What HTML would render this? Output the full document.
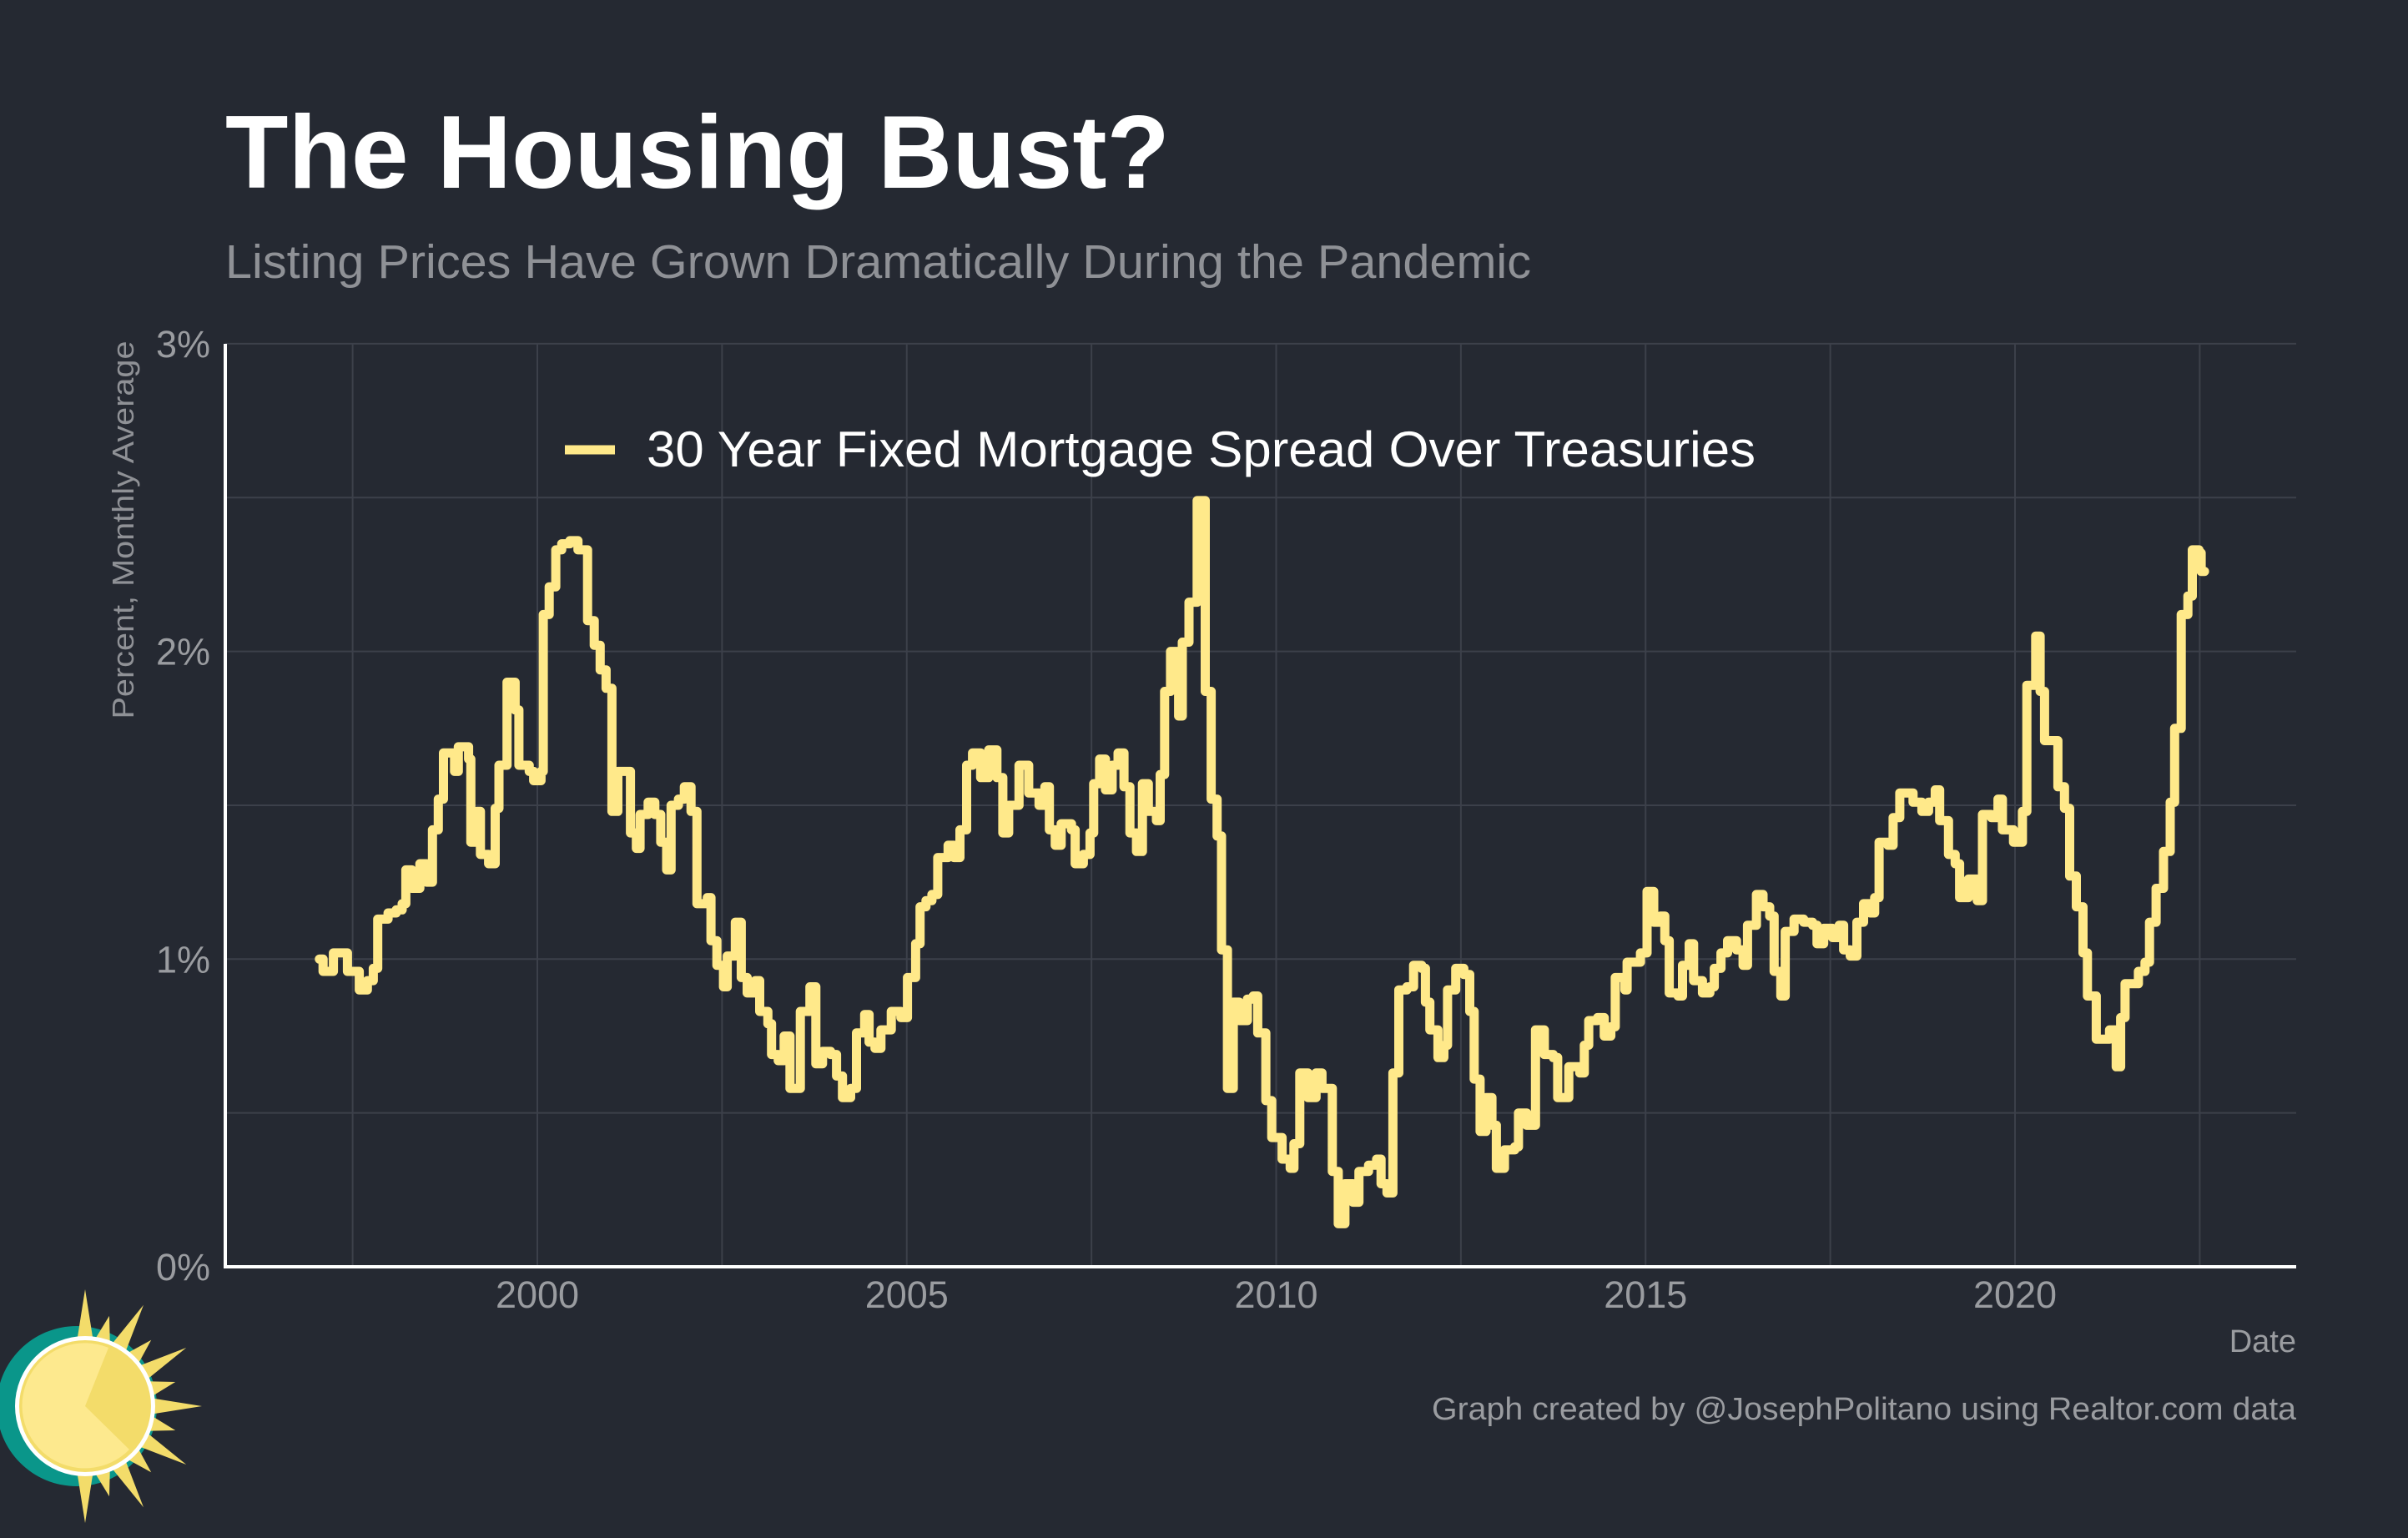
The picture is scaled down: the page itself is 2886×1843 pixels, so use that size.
<!DOCTYPE html>
<html><head><meta charset="utf-8"><style>
html,body{margin:0;padding:0;background:#252932;}
svg{display:block;font-family:"Liberation Sans",sans-serif;}
</style></head><body>
<svg id="chart" width="2886" height="1843" viewBox="0 0 2886 1843" xmlns="http://www.w3.org/2000/svg">
<rect width="2886" height="1843" fill="#252932"/>
<text x="270" y="225" font-size="124" font-weight="bold" fill="#ffffff" textLength="1132" lengthAdjust="spacingAndGlyphs">The Housing Bust?</text>
<text x="270" y="333" font-size="57" fill="#8f9196" textLength="1565" lengthAdjust="spacingAndGlyphs">Listing Prices Have Grown Dramatically During the Pandemic</text>
<g id="grid"></g>
<g id="yticks"></g>
<g id="xticks"></g>
<text transform="translate(160,635) rotate(-90)" text-anchor="middle" font-size="36" fill="#8f9196" textLength="453" lengthAdjust="spacingAndGlyphs">Percent, Monthly Average</text>
<text x="2752" y="1620" text-anchor="end" font-size="38" fill="#9a9ca0">Date</text>
<text x="1716" y="1701" font-size="38" fill="#9a9ca0" textLength="1036" lengthAdjust="spacingAndGlyphs">Graph created by @JosephPolitano using Realtor.com data</text>
<path id="series" fill="none" stroke="#ffe98a" stroke-width="11" stroke-linejoin="round" stroke-linecap="round"/>
<line x1="270" y1="412" x2="270" y2="1518" stroke="#ffffff" stroke-width="4"/>
<line x1="268" y1="1518" x2="2752" y2="1518" stroke="#ffffff" stroke-width="4"/>
<g>
<line x1="677" y1="539" x2="737" y2="539" stroke="#ffe98a" stroke-width="11"/>
<text x="775" y="559" font-size="60" fill="#ffffff" textLength="1329" lengthAdjust="spacingAndGlyphs">30 Year Fixed Mortgage Spread Over Treasuries</text>
</g>
<g>
<circle cx="92" cy="1685" r="96" fill="#0a968a"/>
<g id="rays" fill="#f3dc6a"></g>
<circle cx="102" cy="1685" r="84" fill="#ffffff"/>
<circle cx="102" cy="1685" r="79" fill="#f3dc6a"/>
<path d="M102,1685 L130,1615 A75,75 0 1,0 155,1737 Z" fill="#fde98e"/>
</g>
</svg>
<script>
const dates=[1997.05,1997.10,1997.24,1997.43,1997.59,1997.70,1997.78,1997.84,1997.98,1998.09,1998.17,1998.22,1998.30,1998.41,1998.50,1998.58,1998.66,1998.73,1998.88,1998.93,1999.07,1999.10,1999.18,1999.23,1999.34,1999.43,1999.48,1999.59,1999.70,1999.75,1999.89,1999.95,2000.05,2000.08,2000.16,2000.25,2000.33,2000.44,2000.55,2000.68,2000.77,2000.85,2000.93,2001.01,2001.09,2001.26,2001.34,2001.39,2001.50,2001.59,2001.67,2001.75,2001.81,2001.91,2001.99,2002.08,2002.16,2002.30,2002.35,2002.43,2002.52,2002.57,2002.68,2002.76,2002.84,2002.95,2003.01,2003.12,2003.17,2003.26,2003.34,2003.42,2003.56,2003.69,2003.77,2003.86,2003.97,2004.05,2004.13,2004.24,2004.32,2004.43,2004.49,2004.57,2004.65,2004.79,2004.92,
2005.01,2005.12,2005.18,2005.26,2005.34,2005.42,2005.56,2005.64,2005.72,2005.81,2005.89,2006.00,2006.11,2006.22,2006.30,2006.38,2006.52,2006.65,2006.79,2006.87,2006.93,2007.01,2007.09,2007.23,2007.28,2007.39,2007.48,2007.53,2007.61,2007.69,2007.78,2007.86,2007.94,2008.02,2008.11,2008.19,2008.27,2008.38,2008.43,2008.49,2008.57,2008.68,2008.73,2008.82,2008.93,2009.04,2009.12,2009.20,2009.26,2009.34,2009.42,2009.50,2009.61,2009.69,2009.75,2009.86,2009.94,2010.08,2010.19,2010.24,2010.32,2010.43,2010.54,2010.62,2010.76,2010.84,2010.93,2011.04,2011.12,2011.25,2011.36,2011.42,2011.50,2011.58,2011.66,2011.77,2011.86,2011.97,2012.02,2012.08,2012.19,2012.27,2012.32,2012.43,2012.54,2012.62,2012.68,2012.76,2012.84,2012.92,2012.98,2013.09,2013.23,2013.28,2013.39,
2013.51,2013.63,2013.75,2013.81,2013.96,2014.11,2014.17,2014.23,2014.35,2014.44,2014.53,2014.59,2014.72,2014.75,2014.84,2014.93,2015.02,2015.11,2015.20,2015.26,2015.32,2015.44,2015.50,2015.59,2015.65,2015.77,2015.87,2015.93,2016.02,2016.11,2016.23,2016.32,2016.38,2016.50,2016.59,2016.68,2016.74,2016.83,2016.89,2017.01,2017.14,2017.26,2017.32,2017.41,2017.53,2017.62,2017.68,2017.77,2017.86,2017.95,2018.04,2018.10,2018.16,2018.28,2018.35,2018.44,2018.62,2018.74,2018.83,2018.92,2018.98,2019.10,2019.19,2019.25,2019.37,2019.49,2019.56,2019.68,2019.77,2019.83,2019.98,2020.10,2020.16,2020.28,2020.34,2020.40,2020.58,2020.67,2020.74,2020.83,2020.92,2020.98,2021.10,2021.28,2021.37,2021.43,2021.49,2021.67,2021.76,2021.82,2021.91,2022.01,2022.10,2022.16,2022.25,2022.34,2022.40,2022.49,2022.52];
const spread=[1.00,0.96,1.02,0.96,0.90,0.93,0.97,1.13,1.15,1.16,1.18,1.29,1.23,1.31,1.25,1.42,1.52,1.67,1.61,1.69,1.65,1.38,1.48,1.34,1.31,1.49,1.63,1.90,1.81,1.63,1.61,1.58,1.61,2.12,2.21,2.33,2.35,2.36,2.33,2.10,2.02,1.94,1.88,1.48,1.61,1.41,1.36,1.47,1.51,1.47,1.38,1.29,1.50,1.52,1.56,1.48,1.18,1.20,1.06,0.98,0.91,1.01,1.12,0.94,0.89,0.93,0.83,0.79,0.69,0.67,0.75,0.58,0.83,0.91,0.66,0.70,0.69,0.62,0.55,0.58,0.76,0.82,0.73,0.71,0.77,0.83,0.81,
0.94,1.05,1.17,1.19,1.21,1.33,1.37,1.33,1.42,1.63,1.67,1.59,1.68,1.59,1.41,1.50,1.63,1.54,1.50,1.56,1.42,1.37,1.44,1.42,1.31,1.34,1.41,1.57,1.65,1.55,1.63,1.67,1.56,1.41,1.35,1.57,1.48,1.45,1.60,1.87,2.00,1.79,2.03,2.16,2.49,1.87,1.52,1.40,1.03,0.58,0.86,0.80,0.87,0.88,0.76,0.54,0.42,0.35,0.32,0.40,0.63,0.55,0.63,0.58,0.31,0.14,0.27,0.21,0.31,0.33,0.35,0.27,0.24,0.63,0.90,0.91,0.98,0.97,0.86,0.77,0.68,0.72,0.90,0.97,0.95,0.83,0.61,0.44,0.55,0.46,0.32,0.38,0.39,0.50,0.46,
0.77,0.69,0.68,0.55,0.65,0.63,0.72,0.80,0.81,0.75,0.78,0.94,0.90,0.99,0.99,1.02,1.22,1.12,1.14,1.06,0.89,0.88,0.98,1.05,0.93,0.89,0.91,0.97,1.02,1.06,1.03,0.98,1.11,1.21,1.17,1.14,0.96,0.88,1.09,1.13,1.12,1.11,1.05,1.10,1.07,1.11,1.03,1.01,1.12,1.18,1.15,1.20,1.38,1.37,1.46,1.54,1.51,1.48,1.51,1.55,1.45,1.34,1.31,1.20,1.26,1.19,1.47,1.46,1.52,1.42,1.38,1.48,1.89,2.05,1.87,1.71,1.56,1.49,1.27,1.17,1.02,0.88,0.74,0.77,0.65,0.81,0.92,0.96,0.99,1.12,1.23,1.35,1.51,1.75,2.12,2.18,2.33,2.32,2.26];
const yTicks=[0,1,2,3];
const yTickLabels=["0%","1%","2%","3%"];
const xTicks=[2000,2005,2010,2015,2020];
const xTickLabels=["2000","2005","2010","2015","2020"];
const NS="http://www.w3.org/2000/svg";
const X=yr=>644+(yr-2000)*88.55;
const Y=v=>1518-v*368.7;
const grid=document.getElementById('grid');
for(let v=0.5;v<=3.001;v+=0.5){const l=document.createElementNS(NS,'line');l.setAttribute('x1',270);l.setAttribute('x2',2752);l.setAttribute('y1',Y(v));l.setAttribute('y2',Y(v));l.setAttribute('stroke','#3c404a');l.setAttribute('stroke-width',2);


grid.appendChild(l);}
for(let yr=1997.5;yr<=2022.6;yr+=2.5){const l=document.createElementNS(NS,'line');l.setAttribute('x1',X(yr));l.setAttribute('x2',X(yr));l.setAttribute('y1',412);l.setAttribute('y2',1518);l.setAttribute('stroke','#3c404a');l.setAttribute('stroke-width',2);


grid.appendChild(l);}
const yt=document.getElementById('yticks');
yTicks.forEach((v,i)=>{const t=document.createElementNS(NS,'text');t.setAttribute('x',252);t.setAttribute('y',Y(v)+16);t.setAttribute('text-anchor','end');t.setAttribute('font-size',45);t.setAttribute('fill','#9a9ca0');t.textContent=yTickLabels[i];


yt.appendChild(t);});
const xt=document.getElementById('xticks');
xTicks.forEach((v,i)=>{const t=document.createElementNS(NS,'text');t.setAttribute('x',X(v));t.setAttribute('y',1567);t.setAttribute('text-anchor','middle');t.setAttribute('font-size',45);t.setAttribute('fill','#9a9ca0');t.textContent=xTickLabels[i];


xt.appendChild(t);});
let d='M'+X(dates[0]).toFixed(1)+','+Y(spread[0]).toFixed(1);
for(let i=1;i<dates.length;i++){d+=' H'+X(dates[i]).toFixed(1)+' V'+Y(spread[i]).toFixed(1);}
d+=' H'+(X(dates[dates.length-1])+4).toFixed(1);
document.getElementById('series').setAttribute('d',d);
const rays=document.getElementById('rays');
const cx=102,cy=1685;
for(let k=0;k<13;k++){const a=-Math.PI/2+k*Math.PI/12;const len=(k%2==0)?140:112;const w=0.12;
const p=document.createElementNS(NS,'polygon');
const px=cx+Math.cos(a)*len,py=cy+Math.sin(a)*len;
const b1x=cx+Math.cos(a-w)*80,b1y=cy+Math.sin(a-w)*80,b2x=cx+Math.cos(a+w)*80,b2y=cy+Math.sin(a+w)*80;
p.setAttribute('points',`${b1x},${b1y} ${px},${py} ${b2x},${b2y}`);


rays.appendChild(p);}
</script>
</body></html>
